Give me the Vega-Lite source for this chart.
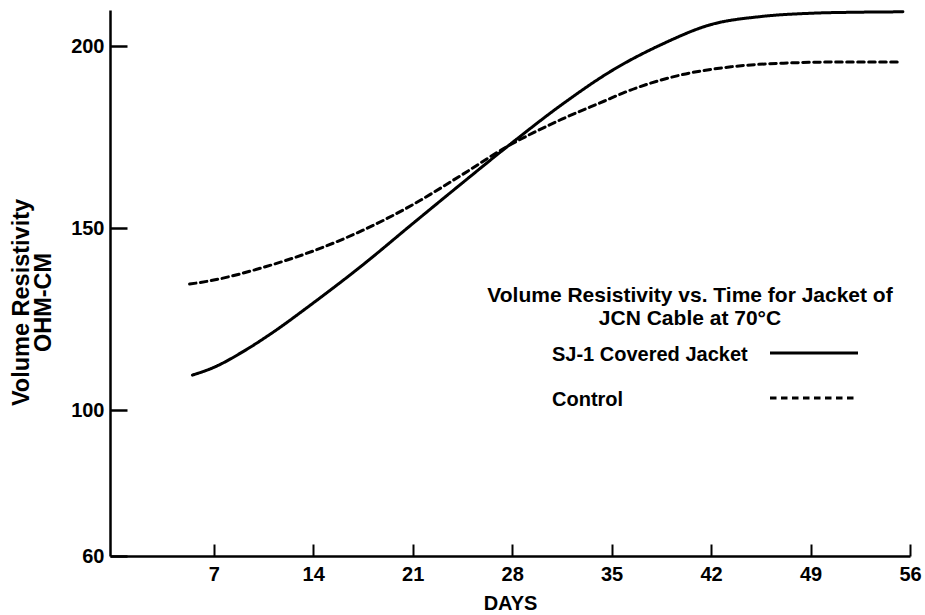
{
  "$schema": "https://vega.github.io/schema/vega-lite/v6.json",
  "width": 800,
  "height": 546,
  "autosize": {"type": "none"},
  "padding": {"left": 110, "top": 10, "right": 15, "bottom": 59},
  "background": "white",
  "config": {
    "font": "Liberation Sans",
    "view": {"stroke": null},
    "axis": {
      "domainColor": "black",
      "domainWidth": 2.5,
      "tickColor": "black",
      "labelColor": "black",
      "titleColor": "black",
      "labelFont": "Liberation Sans",
      "titleFont": "Liberation Sans",
      "labelFontWeight": "bold",
      "titleFontWeight": "bold",
      "labelFontSize": 20,
      "grid": false
    }
  },
  "title": {
    "text": ["Volume Resistivity vs. Time for Jacket of", "JCN Cable at 70°C"],
    "font": "Liberation Sans",
    "fontSize": 21,
    "fontWeight": "bold",
    "color": "black",
    "lineHeight": 23,
    "anchor": "middle",
    "frame": "group",
    "offset": 0,
    "dx": 180,
    "dy": 340,
    "baseline": "alphabetic"
  },
  "data": {
    "values": [
      {"series": "SJ-1 Covered Jacket", "day": 5.5, "value": 109.7},
      {"series": "SJ-1 Covered Jacket", "day": 7, "value": 111.8},
      {"series": "SJ-1 Covered Jacket", "day": 9, "value": 116},
      {"series": "SJ-1 Covered Jacket", "day": 11, "value": 121},
      {"series": "SJ-1 Covered Jacket", "day": 14, "value": 129.5},
      {"series": "SJ-1 Covered Jacket", "day": 17.5, "value": 140},
      {"series": "SJ-1 Covered Jacket", "day": 21, "value": 151.3},
      {"series": "SJ-1 Covered Jacket", "day": 24.5, "value": 162.5},
      {"series": "SJ-1 Covered Jacket", "day": 27.7, "value": 172.6},
      {"series": "SJ-1 Covered Jacket", "day": 31.6, "value": 184.3},
      {"series": "SJ-1 Covered Jacket", "day": 35, "value": 193.3},
      {"series": "SJ-1 Covered Jacket", "day": 38.5, "value": 200.5},
      {"series": "SJ-1 Covered Jacket", "day": 42, "value": 206},
      {"series": "SJ-1 Covered Jacket", "day": 45.5, "value": 208.2},
      {"series": "SJ-1 Covered Jacket", "day": 49, "value": 209.1},
      {"series": "SJ-1 Covered Jacket", "day": 52.5, "value": 209.4},
      {"series": "SJ-1 Covered Jacket", "day": 55.5, "value": 209.5},
      {"series": "Control", "day": 5.3, "value": 134.7},
      {"series": "Control", "day": 7, "value": 135.8},
      {"series": "Control", "day": 10.5, "value": 139.3},
      {"series": "Control", "day": 14, "value": 143.8},
      {"series": "Control", "day": 17.5, "value": 149.5},
      {"series": "Control", "day": 21, "value": 156.5},
      {"series": "Control", "day": 24.5, "value": 164.8},
      {"series": "Control", "day": 27.7, "value": 172.6},
      {"series": "Control", "day": 29.5, "value": 176.3},
      {"series": "Control", "day": 31.5, "value": 180},
      {"series": "Control", "day": 34.5, "value": 185},
      {"series": "Control", "day": 36, "value": 187.5},
      {"series": "Control", "day": 39.7, "value": 192},
      {"series": "Control", "day": 43.4, "value": 194.4},
      {"series": "Control", "day": 47.1, "value": 195.4},
      {"series": "Control", "day": 51, "value": 195.7},
      {"series": "Control", "day": 55.3, "value": 195.7}
    ]
  },
  "mark": {"type": "line", "interpolate": "monotone", "strokeWidth": 3, "color": "black", "strokeCap": "round"},
  "encoding": {
    "x": {
      "field": "day",
      "type": "quantitative",
      "scale": {"domain": [-0.3, 56], "nice": false, "zero": false},
      "axis": {
        "values": [7, 14, 21, 28, 35, 42, 49, 56],
        "title": "DAYS",
        "titleFontSize": 20,
        "titlePadding": 9,
        "tickSize": -12,
        "tickWidth": 2,
        "labelPadding": 20,
        "labelFlush": false,
        "labelOverlap": false
      }
    },
    "y": {
      "field": "value",
      "type": "quantitative",
      "scale": {"domain": [60, 210], "nice": false, "zero": false},
      "axis": {
        "values": [60, 100, 150, 200],
        "title": ["Volume Resistivity", "OHM-CM"],
        "titleFontSize": 23.5,
        "titleLineHeight": 22,
        "titlePadding": 15,
        "titleY": 292,
        "tickSize": -17,
        "tickWidth": 2.5,
        "labelPadding": 23,
        "labelFlush": false,
        "labelOverlap": false
      }
    },
    "strokeDash": {
      "field": "series",
      "type": "nominal",
      "scale": {"domain": ["SJ-1 Covered Jacket", "Control"], "range": [[1, 0], [6.5, 4.5]]},
      "legend": {
        "title": null,
        "orient": "none",
        "legendX": 442,
        "legendY": 310.5,
        "direction": "vertical",
        "symbolType": "M-1,-0.2955L1,-0.2955",
        "symbolSize": 7744,
        "symbolStrokeWidth": 3,
        "symbolStrokeColor": "black",
        "symbolFillColor": "transparent",
        "symbolOffset": 216.5,
        "labelOffset": -307.5,
        "labelFontSize": 20,
        "labelFontWeight": "bold",
        "labelFont": "Liberation Sans",
        "labelColor": "black",
        "labelLimit": 400,
        "labelBaseline": "line-bottom",
        "labelLineHeight": 25.6,
        "rowPadding": 0,
        "padding": 0
      }
    }
  }
}
